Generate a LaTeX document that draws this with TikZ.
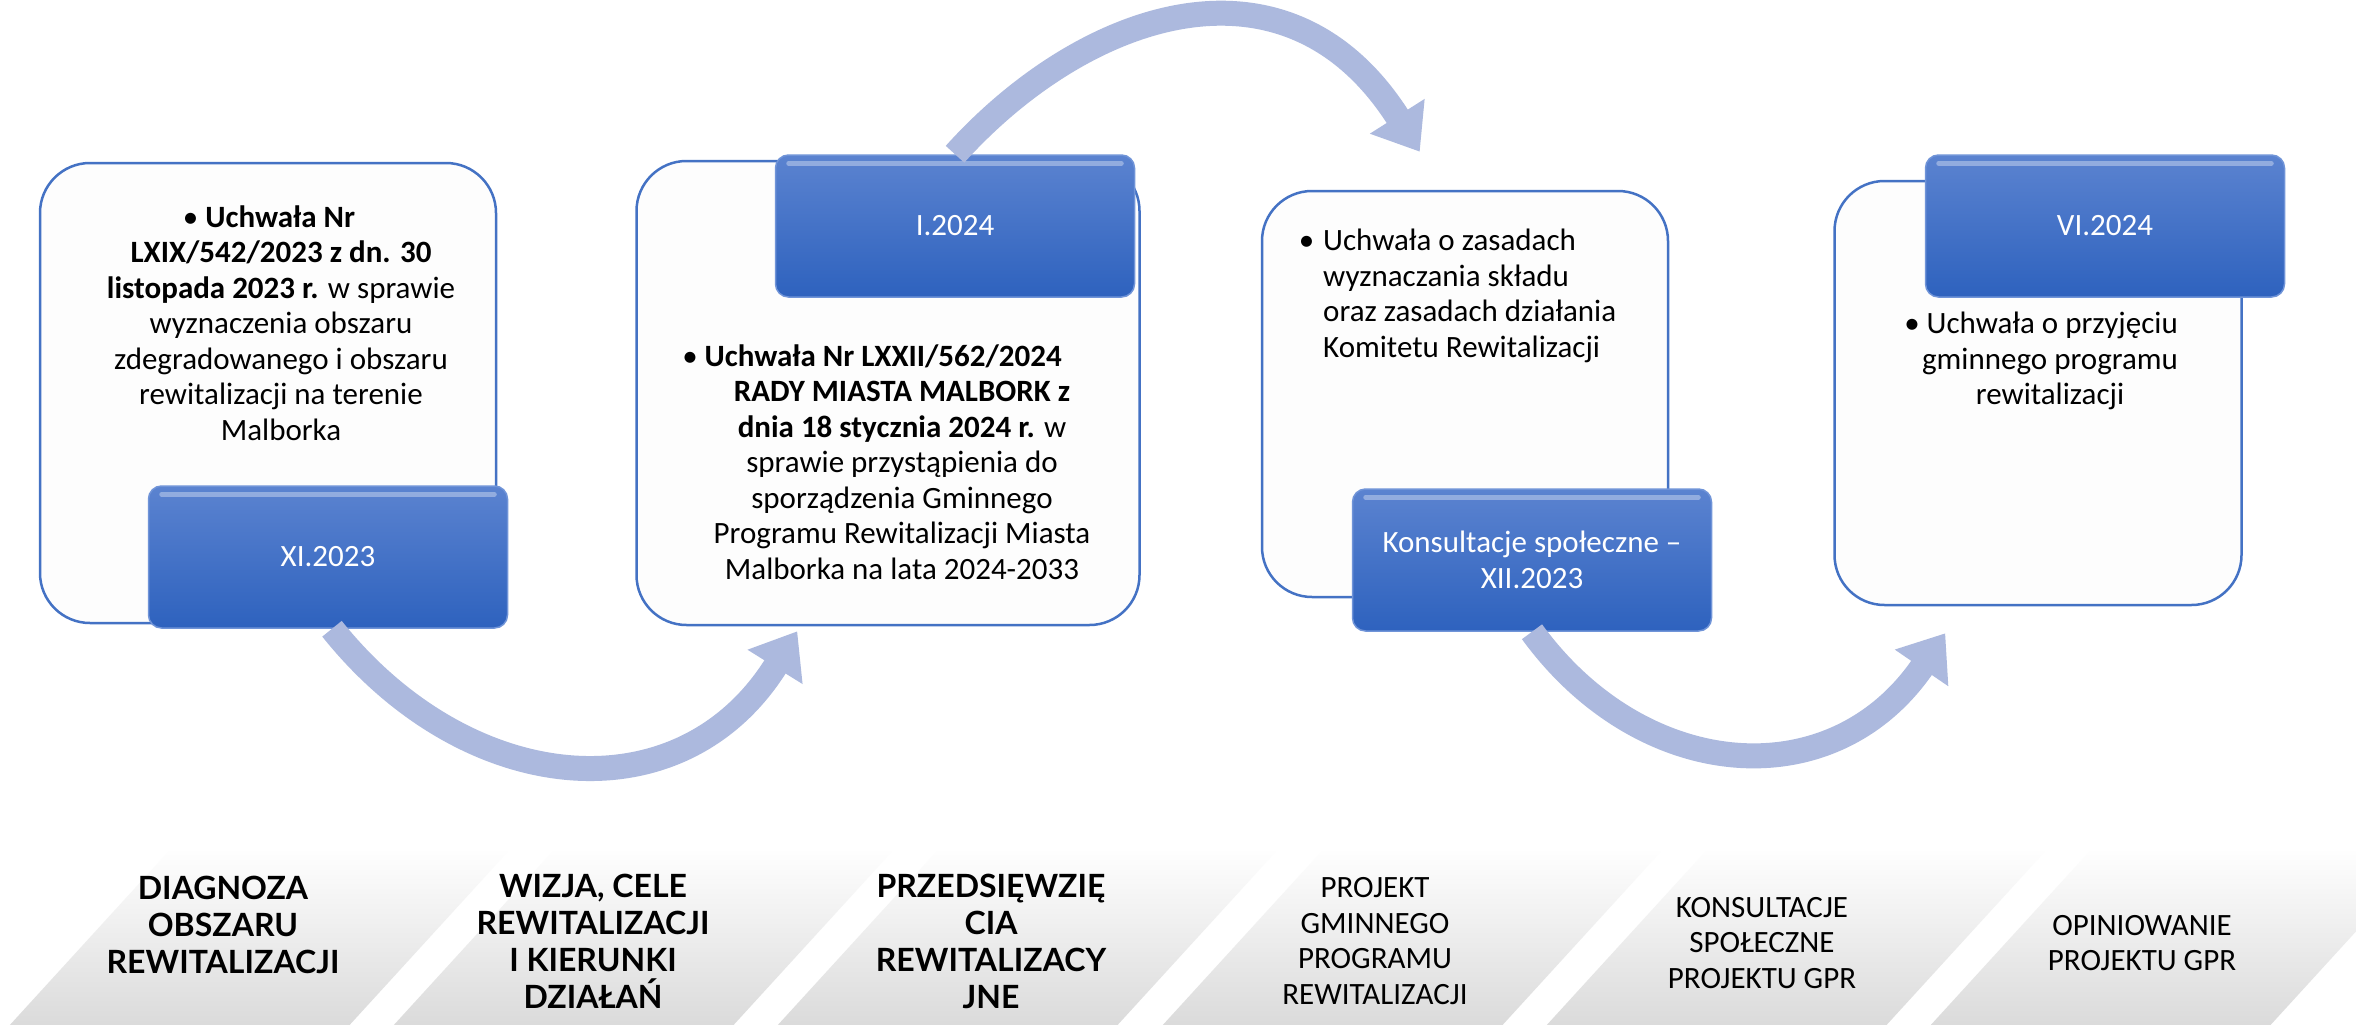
\documentclass[tikz,border=0pt]{standalone}
\usepackage{fontspec}
\setmainfont{Carlito}
\newfontfamily\latofont{Lato}
\usepackage{tikz}
\usetikzlibrary{arrows.meta,fadings}

\definecolor{frameblue}{RGB}{68,114,196}
\definecolor{paper}{RGB}{253,253,253}
\definecolor{datetop}{RGB}{91,131,208}
\definecolor{datebottom}{RGB}{46,98,190}
\definecolor{dateedge}{RGB}{112,148,216}
\definecolor{arrowblue}{RGB}{172,185,222}
\definecolor{bandgray}{RGB}{219,219,219}

\newcommand{\calibri}{\fontsize{31pt}{35.5pt}\selectfont}
\newcommand{\stagefont}{\latofont\bfseries\fontsize{32pt}{37pt}\selectfont}

\begin{document}
\begin{tikzpicture}[%
      x=1pt, y=-1pt,
      whitebox/.style={draw=frameblue, line width=2.5pt, fill=paper, rounded corners=50pt},
      datebox/.style={draw=dateedge, line width=1.5pt, top color=datetop, bottom color=datebottom,
        rounded corners=13pt, minimum width=359pt, minimum height=142pt,
        text=white, align=center, font=\calibri},
      bevel/.style={white, opacity=0.35, line width=5pt, line cap=round},
      boxtext/.style={align=center, inner sep=0pt, font=\calibri},
      bendarrow/.style={draw=arrowblue, line width=25pt, -{Triangle[width=62pt,length=42pt]}},
      stageband/.style={fill=bandgray, path fading=north},
      stagebold/.style={align=center, inner sep=0pt, font=\stagefont},
      stagelight/.style={align=center, inner sep=0pt, font=\calibri},
      ]
      \fill[white] (0,0) rectangle (2356,1025);
      \useasboundingbox (0,0) rectangle (2356,1025);

      \fill[stageband] (10,1025) -- ++(340,0) -- ++(160,-175) -- ++(-340,0) -- cycle;
      \fill[stageband] (394,1025) -- ++(340,0) -- ++(160,-175) -- ++(-340,0) -- cycle;
      \fill[stageband] (778,1025) -- ++(340,0) -- ++(160,-175) -- ++(-340,0) -- cycle;
      \fill[stageband] (1163,1025) -- ++(340,0) -- ++(160,-175) -- ++(-340,0) -- cycle;
      \fill[stageband] (1547,1025) -- ++(340,0) -- ++(160,-175) -- ++(-340,0) -- cycle;
      \fill[stageband] (1931,1025) -- ++(340,0) -- ++(160,-175) -- ++(-340,0) -- cycle;

      \node[whitebox, minimum width=456pt, minimum height=460pt] (wA) at (268,393) {};
      \node[whitebox, minimum width=503pt, minimum height=464pt] (wB) at (888,393) {};
      \node[whitebox, minimum width=406pt, minimum height=406pt] (wC) at (1465,394) {};
      \node[whitebox, minimum width=407pt, minimum height=424pt] (wD) at (2038,393) {};

      \node[datebox] (bA) at (328,557) {XI.2023};
      \node[datebox] (bB) at (955,226) {I.2024};
      \node[datebox] (bC) at (1532,560) {Konsultacje społeczne –\\XII.2023};
      \node[datebox] (bD) at (2105,226) {VI.2024};
      \draw[bevel] ([xshift=14pt,yshift=-9pt]bA.north west) -- ([xshift=-14pt,yshift=-9pt]bA.north east);
      \draw[bevel] ([xshift=14pt,yshift=-9pt]bB.north west) -- ([xshift=-14pt,yshift=-9pt]bB.north east);
      \draw[bevel] ([xshift=14pt,yshift=-9pt]bC.north west) -- ([xshift=-14pt,yshift=-9pt]bC.north east);
      \draw[bevel] ([xshift=14pt,yshift=-9pt]bD.north west) -- ([xshift=-14pt,yshift=-9pt]bD.north east);

      \node[boxtext] (tA) at (281,323) {• \textbf{Uchwała Nr}\hspace*{24pt}\\
        \textbf{LXIX/542/2023 z dn. 30}\\ \textbf{listopada 2023 r.} w sprawie\\
        wyznaczenia obszaru\\ zdegradowanego i obszaru\\ rewitalizacji na terenie\\ Malborka};
      \node[boxtext] (tB) at (902,462) {• \textbf{Uchwała Nr LXXII/562/2024}\hspace*{60pt}\\
        \textbf{RADY MIASTA MALBORK z}\\ \textbf{dnia 18 stycznia 2024 r.} w\\
        sprawie przystąpienia do\\ sporządzenia Gminnego\\ Programu Rewitalizacji Miasta\\
        Malborka na lata 2024-2033};
      \node[boxtext, align=left, anchor=west] (tC) at (1323,296) {\llap{•\hspace{9pt}}Uchwała o zasadach\\
        wyznaczania składu\\ oraz zasadach działania\\ Komitetu Rewitalizacji};
      \node[boxtext] (tD) at (2050,361) {• Uchwała o przyjęciu\hspace*{18pt}\\
        gminnego programu\\ rewitalizacji};

      \draw[bendarrow] ([xshift=4pt]bA.south) .. controls +(136,170) and +(-116,186) .. ([xshift=162pt,yshift=-5pt]wB.south west);
      \draw[bendarrow] (bB.north) .. controls +(128,-142) and +(-134,-211) .. ([xshift=159pt,yshift=38pt]wC.north west);
      \draw[bendarrow] (bC.south) .. controls +(110,151) and +(-113,165) .. ([xshift=112pt,yshift=-27pt]wD.south west);

      \node[stagebold] (sA) at (223,925) {DIAGNOZA\\OBSZARU\\REWITALIZACJI};
      \node[stagebold] (sB) at (593,941) {WIZJA, CELE\\REWITALIZACJI\\I KIERUNKI\\DZIAŁAŃ};
      \node[stagebold] (sC) at (991,941) {PRZEDSIĘWZIĘ\\CIA\\REWITALIZACY\\JNE};
      \node[stagelight] (sD) at (1375,941) {PROJEKT\\GMINNEGO\\PROGRAMU\\REWITALIZACJI};
      \node[stagelight] (sE) at (1762,943) {KONSULTACJE\\SPOŁECZNE\\PROJEKTU GPR};
      \node[stagelight] (sF) at (2142,943) {OPINIOWANIE\\PROJEKTU GPR};
\end{tikzpicture}
\end{document}
